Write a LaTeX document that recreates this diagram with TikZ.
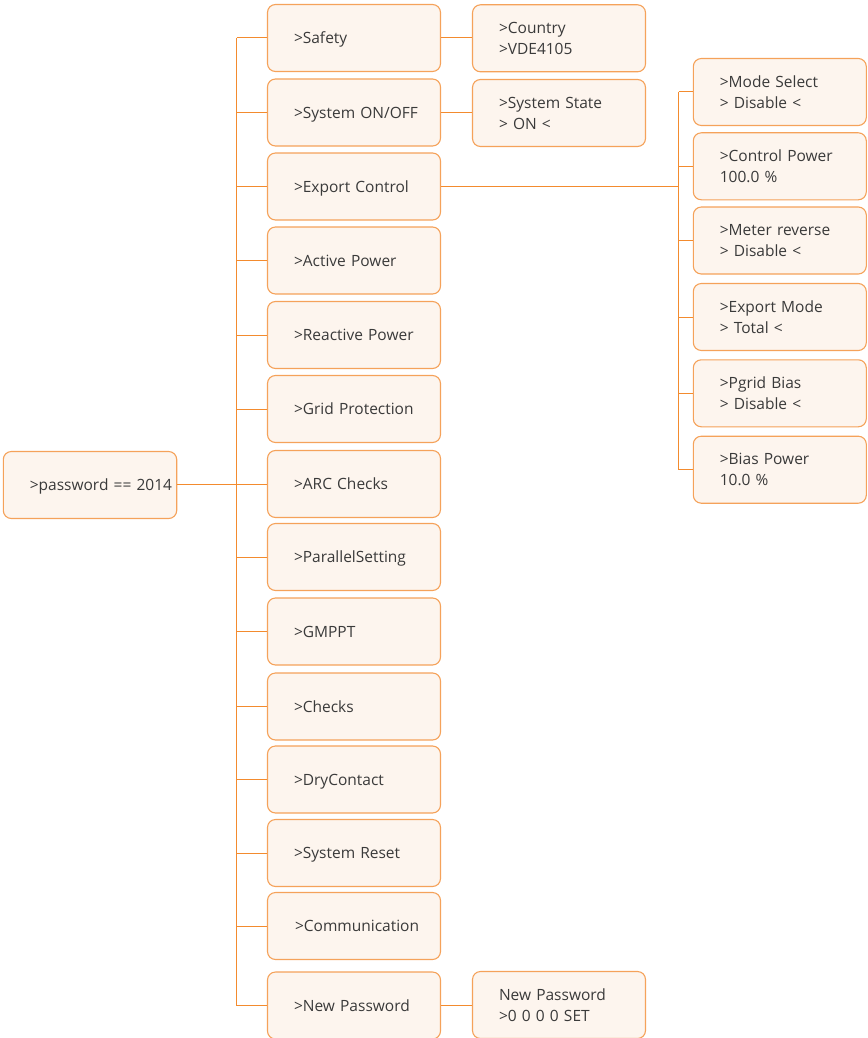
\documentclass[tikz,border=0pt]{standalone}
\usepackage{fontspec}
\setmainfont{Open Sans}
\hyphenpenalty=10000
\exhyphenpenalty=10000
\definecolor{bordc}{HTML}{F5A25A}
\definecolor{linec}{HTML}{F38B2E}
\definecolor{fillc}{HTML}{FDF5EE}
\definecolor{txtc}{HTML}{3A3A3A}
\begin{document}
\begin{tikzpicture}[x=1pt,y=-1pt,
  box/.style={draw=bordc,line width=1.1pt,fill=fillc,rounded corners=8pt,
    minimum height=67pt,inner xsep=26.5pt,inner ysep=0pt,text width=120pt,
    align=left,text=txtc,
    font=\fontsize{15.5}{21}\selectfont},
  onebox/.style={box,text height=11pt,text depth=0pt},
  conn/.style={draw=linec,line width=1pt}]
\useasboundingbox (0,0) rectangle (867,1038);
% password
\node[onebox,text width=120.4pt] (pw) at (90,485) {>password~==~2014};
% main column
\node[onebox] (safety) at (354,38) {>Safety};
\node[onebox] (sys) at (354,112.5) {>System~ON/OFF};
\node[onebox] (exp) at (354,186.5) {>Export~Control};
\node[onebox] (act) at (354,260.5) {>Active~Power};
\node[onebox] (rea) at (354,335) {>Reactive~Power};
\node[onebox] (grid) at (354,409) {>Grid~Protection};
\node[onebox] (arc) at (354,484) {>ARC~Checks};
\node[onebox] (par) at (354,557) {>ParallelSetting};
\node[onebox] (gmppt) at (354,631.5) {>GMPPT};
\node[onebox] (chk) at (354,706.5) {>Checks};
\node[onebox] (dry) at (354,779.5) {>DryContact};
\node[onebox] (rst) at (354,853) {>System~Reset};
\node[onebox] (com) at (354,926) {\hspace*{1pt}\mbox{>Communication}};
\node[onebox] (npw) at (354,1005.5) {>New~Password};
% sub column
\node[box] (country) at (559,38.3) {>Country\\>VDE4105};
\node[box] (state) at (559,113) {>System State\\> ON <};
\node[box] (npwset) at (559,1005) {New Password\\>0 0 0 0 SET};
% right column
\node[box] (mode) at (779.8,92) {>Mode Select\\> Disable <};
\node[box] (cpow) at (779.8,166.3) {>Control Power\\100.0 \%};
\node[box] (meter) at (779.8,240.5) {>Meter reverse\\> Disable <};
\node[box] (emode) at (779.8,317) {>Export Mode\\> Total <};
\node[box] (pgrid) at (779.8,393.3) {>Pgrid Bias\\> Disable <};
\node[box] (bpow) at (779.8,469.7) {>Bias Power\\10.0 \%};
% connectors
\coordinate (ta) at (236.5,38);
\coordinate (tb) at (236.5,1005.5);
\draw[conn] (ta) -- (tb);
\draw[conn] (pw.east |- arc.west) -- (arc.west);
\foreach \n in {safety,sys,exp,act,rea,grid,arc,par,gmppt,chk,dry,rst,com,npw}
  \draw[conn] (\n.west -| ta) -- (\n.west);
\draw[conn] (safety.east) -- (country.west |- safety.east);
\draw[conn] (sys.east) -- (state.west |- sys.east);
\draw[conn] (npw.east) -- (npwset.west |- npw.east);
\coordinate (ra) at (678.5,92);
\coordinate (rb) at (678.5,469.7);
\draw[conn] (ra) -- (rb);
\draw[conn] (exp.east) -- (exp.east -| ra);
\foreach \n in {mode,cpow,meter,emode,pgrid,bpow}
  \draw[conn] (\n.west -| ra) -- (\n.west);
\end{tikzpicture}
\end{document}
